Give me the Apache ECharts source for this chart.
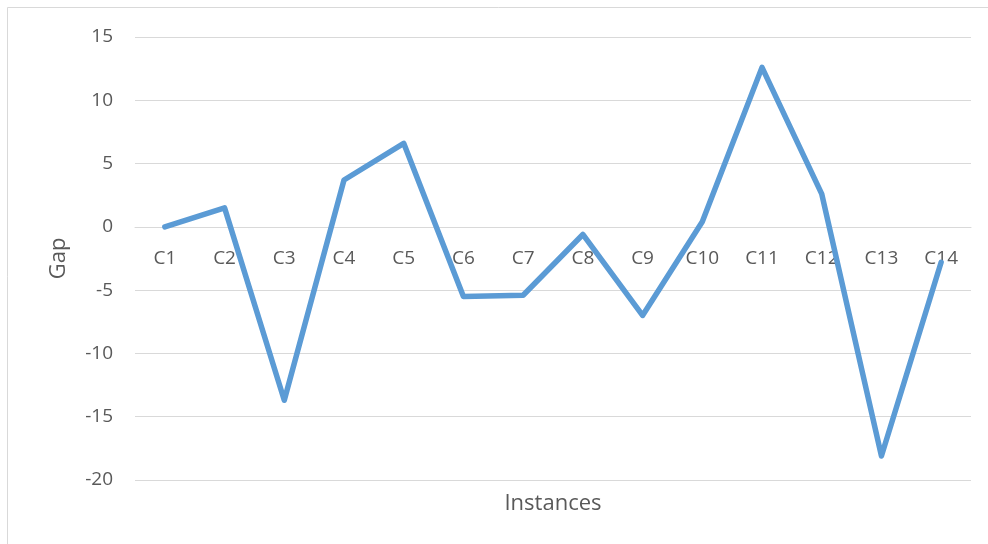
<!DOCTYPE html>
<html>
<head>
<meta charset="utf-8">
<script src="https://cdn.jsdelivr.net/npm/echarts@6/dist/echarts.min.js"></script>
<style>
  html, body { margin: 0; padding: 0; background: #ffffff; }
  #chart { width: 988px; height: 544px; }
</style>
</head>
<body>
<div id="chart"></div>
<script>
// Gap per instance
const categories = ['C1', 'C2', 'C3', 'C4', 'C5', 'C6', 'C7', 'C8', 'C9', 'C10', 'C11', 'C12', 'C13', 'C14'];
const gapValues = [0, 1.5, -13.7, 3.7, 6.6, -5.5, -5.4, -0.6, -7.0, 0.4, 12.6, 2.6, -18.1, -2.8];

// Value axis range
const yMin = -20;
const yMax = 15;
const yStep = 5;

const textColor = '#595959';
const gridColor = '#d9d9d9';
const fontFamily = '"Open Sans", "Noto Sans", sans-serif';

// Plot area placement
const gridTop = 37;
const gridBottom = 64;
const chartHeight = 544;

// Lift the category axis from the bottom of the plot to the zero line
const plotHeight = chartHeight - gridTop - gridBottom;
const zeroLift = Math.round(plotHeight * (0 - yMin) / (yMax - yMin));

const chart = echarts.init(document.getElementById('chart'), null, { renderer: 'canvas' });

chart.setOption({
  backgroundColor: '#ffffff',
  animation: false,
  graphic: [{
    type: 'rect',
    shape: { x: 7.5, y: 7.5, width: 1000, height: 600 },
    style: { fill: 'none', stroke: gridColor, lineWidth: 1 },
    silent: true,
    z: -10
  }],
  grid: { left: 135, right: 17, top: gridTop, bottom: gridBottom, containLabel: false, outerBoundsMode: 'none' },
  xAxis: {
    type: 'category',
    data: categories,
    boundaryGap: true,
    offset: -zeroLift,
    name: 'Instances',
    nameLocation: 'middle',
    nameGap: 13 + zeroLift,
    nameTextStyle: { color: textColor, fontSize: 22, fontFamily: fontFamily },
    axisLine: { show: true, onZero: false, lineStyle: { color: gridColor, width: 1 } },
    axisTick: { show: false },
    axisLabel: { color: textColor, fontSize: 19, fontFamily: fontFamily, margin: 22 },
    splitLine: { show: false }
  },
  yAxis: {
    type: 'value',
    min: yMin,
    max: yMax,
    interval: yStep,
    name: 'Gap',
    nameLocation: 'middle',
    nameGap: 65,
    nameRotate: 90,
    nameTextStyle: { color: textColor, fontSize: 22, fontFamily: fontFamily },
    axisLine: { show: false },
    axisTick: { show: false },
    axisLabel: { color: textColor, fontSize: 19, fontFamily: fontFamily, margin: 22 },
    splitLine: { show: true, lineStyle: { color: gridColor, width: 1 } }
  },
  series: [{
    type: 'line',
    data: gapValues,
    symbol: 'none',
    lineStyle: { color: '#5b9bd5', width: 5.5, join: 'round', cap: 'round' },
    z: 5
  }]
});
</script>
</body>
</html>
